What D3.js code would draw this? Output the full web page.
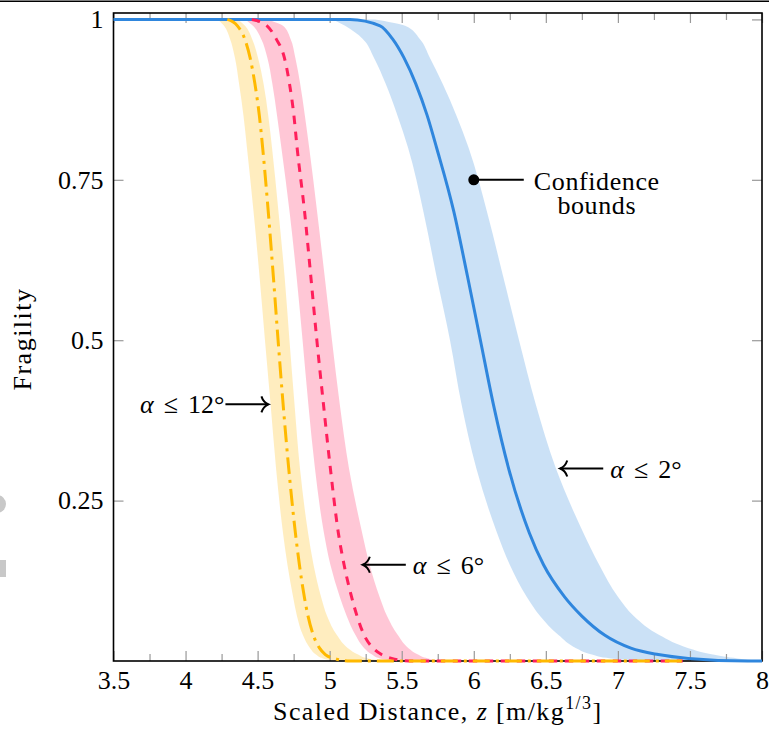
<!DOCTYPE html>
<html>
<head>
<meta charset="utf-8">
<script src="https://cdn.jsdelivr.net/npm/d3@7"></script>
<style>
  body { margin: 0; background: #fff; overflow: hidden; }
  svg text { font-family: "Liberation Serif", "DejaVu Serif", serif; font-size: 26px; fill: #000; }
</style>
</head>
<body>
<svg id="chart" width="769" height="739"></svg>
<script>
const fragLevels = [1, 0.99, 0.97, 0.94, 0.9, 0.85, 0.8, 0.7, 0.6, 0.5, 0.4, 0.3, 0.2, 0.15, 0.1, 0.07, 0.04, 0.02, 0.01, 0.004, 0];

// alpha <= 12 deg
const z12Mean = [4.290, 4.360, 4.410, 4.448, 4.481, 4.512, 4.535, 4.574, 4.609, 4.642, 4.677, 4.716, 4.762, 4.790, 4.824, 4.850, 4.887, 4.930, 4.970, 5.030, 5.140];
const z12Low  = [4.225, 4.267, 4.308, 4.343, 4.371, 4.402, 4.426, 4.472, 4.513, 4.551, 4.590, 4.628, 4.676, 4.707, 4.746, 4.773, 4.815, 4.864, 4.905, 4.954, 5.037];
const z12High = [4.364, 4.413, 4.461, 4.503, 4.541, 4.574, 4.600, 4.645, 4.687, 4.721, 4.756, 4.794, 4.850, 4.888, 4.940, 4.982, 5.051, 5.127, 5.197, 5.266, 5.384];

// alpha <= 6 deg
const z6Mean = [4.460, 4.565, 4.628, 4.686, 4.721, 4.752, 4.774, 4.826, 4.869, 4.911, 4.957, 5.005, 5.060, 5.100, 5.152, 5.190, 5.240, 5.302, 5.360, 5.430, 5.550];
const z6Low  = [4.413, 4.468, 4.524, 4.568, 4.602, 4.635, 4.665, 4.722, 4.770, 4.812, 4.852, 4.898, 4.960, 5.005, 5.070, 5.118, 5.180, 5.240, 5.294, 5.349, 5.454];
const z6High = [4.565, 4.676, 4.728, 4.762, 4.795, 4.828, 4.858, 4.913, 4.965, 5.016, 5.070, 5.134, 5.225, 5.277, 5.346, 5.398, 5.474, 5.547, 5.613, 5.683, 5.801];

// alpha <= 2 deg
const z2Mean = [5.141, 5.350, 5.435, 5.516, 5.597, 5.677, 5.742, 5.862, 5.956, 6.046, 6.136, 6.242, 6.385, 6.484, 6.630, 6.750, 6.910, 7.090, 7.280, 7.490, 7.900];
const z2Low  = [5.023, 5.107, 5.228, 5.308, 5.388, 5.471, 5.544, 5.651, 5.741, 5.835, 5.915, 6.018, 6.161, 6.250, 6.367, 6.460, 6.590, 6.710, 6.820, 6.950, 7.220];
const z2High = [5.315, 5.523, 5.624, 5.696, 5.783, 5.880, 5.964, 6.092, 6.203, 6.314, 6.430, 6.570, 6.760, 6.870, 7.000, 7.110, 7.290, 7.490, 7.660, 7.830, 8.000];

// where the mean lines start / stop along the flat parts
const lineStart = [null, null, 3.5];
const lineEnd = [7.45, 7.45, 8];

const xTicks = [3.5, 4, 4.5, 5, 5.5, 6, 6.5, 7, 7.5, 8];
const xMinor = [3.75, 4.25, 4.75, 5.25, 5.75, 6.25, 6.75, 7.25, 7.75];
const yTicks = [0.25, 0.5, 0.75, 1];

// annotations
const labelDeg = ["12", "6", "2"];
const labelZ = [4.575, 5.23, 6.6];
const labelF = [0.4, 0.15, 0.3];
const boundsDot = [6.0, 0.75];

let series = [
  {mean: z12Mean, low: z12Low, high: z12High, color: "#ffb900", dash: "17 6 3 6"},
  {mean: z6Mean, low: z6Low, high: z6High, color: "#ff1f5b", dash: "8.5 7.5"},
  {mean: z2Mean, low: z2Low, high: z2High, color: "#2f86dd", dash: null}
];

let svg = d3.select("#chart");
let margin = {top: 13, right: 7, bottom: 78, left: 113.5};
let width = +svg.attr("width") - margin.left - margin.right;
let height = +svg.attr("height") - margin.top - margin.bottom;

// bits of the cropped page round the figure
svg.append("line").attr("x1", 0).attr("x2", 769).attr("y1", 1.2).attr("y2", 1.2)
  .attr("stroke", "#000").attr("stroke-width", 1.6);
svg.append("circle").attr("cx", -3).attr("cy", 504).attr("r", 9).attr("fill", "#c8c8c8");
svg.append("rect").attr("x", 0).attr("y", 560).attr("width", 6).attr("height", 17).attr("fill", "#c8c8c8");

let g = svg.append("g").attr("transform", `translate(${margin.left}, ${margin.top})`);

let x = d3.scaleLinear().domain([3.5, 8]).range([0, width]);
let y = d3.scaleLinear().domain([0, 1.01]).range([height, 0]);

// confidence bands
series.forEach(s => {
  let band = fragLevels.map((f, i) => ({f: f, lo: s.low[i], hi: s.high[i]}));
  let area = d3.area()
    .curve(d3.curveMonotoneY)
    .y(d => y(d.f))
    .x0(d => x(d.lo))
    .x1(d => x(d.hi));
  g.append("path")
    .datum(band)
    .attr("fill", s.color)
    .attr("fill-opacity", 0.25)
    .attr("d", area);
});

function styleAxis(sel) {
  sel.select(".domain").remove();
  sel.attr("font-family", null).attr("font-size", null);
  sel.selectAll(".tick line").attr("stroke", "#999").attr("stroke-width", 1.2);
  sel.selectAll(".tick text").attr("fill", "#000");
}

g.append("g").attr("transform", `translate(0, ${height})`)
  .call(d3.axisBottom(x).tickValues(xTicks).tickSize(-10).tickPadding(10).tickFormat(d3.format("~g")))
  .call(styleAxis);
g.append("g").attr("transform", `translate(0, ${height})`)
  .call(d3.axisBottom(x).tickValues(xMinor).tickSize(-7).tickFormat(""))
  .call(styleAxis);
g.append("g")
  .call(d3.axisTop(x).tickValues(xTicks).tickSize(-10).tickFormat(""))
  .call(styleAxis);
g.append("g")
  .call(d3.axisTop(x).tickValues(xMinor).tickSize(-7).tickFormat(""))
  .call(styleAxis);
g.append("g")
  .call(d3.axisLeft(y).tickValues(yTicks).tickSize(-10).tickPadding(10).tickFormat(d3.format("~g")))
  .call(styleAxis);
g.append("g").attr("transform", `translate(${width}, 0)`)
  .call(d3.axisRight(y).tickValues(yTicks).tickSize(-10).tickFormat(""))
  .call(styleAxis);

g.append("rect")
  .attr("width", width)
  .attr("height", height)
  .attr("fill", "none")
  .attr("stroke", "#000")
  .attr("stroke-width", 1.6);

// mean curves, blue first so the others sit on top of it
let meanLine = d3.line()
  .curve(d3.curveMonotoneX)
  .x(d => x(d[0]))
  .y(d => y(d[1]));

[2, 1, 0].forEach(k => {
  let s = series[k];
  let pts = fragLevels.map((f, i) => [s.mean[i], f]);
  if (lineStart[k] !== null) pts.unshift([lineStart[k], 1]);
  pts.push([lineEnd[k], 0]);
  g.append("path")
    .datum(pts)
    .attr("fill", "none")
    .attr("stroke", s.color)
    .attr("stroke-width", 3)
    .attr("stroke-dasharray", s.dash)
    .attr("d", meanLine);
});

// annotations
function arrowHead(tx, ty, dir) {
  return `M${tx - dir * 7},${ty - 8} Q${tx - dir * 5},${ty - 2} ${tx},${ty} Q${tx - dir * 5},${ty + 2} ${tx - dir * 7},${ty + 8}`;
}

labelDeg.forEach((deg, i) => {
  let tx = x(labelZ[i]);
  let ty = y(labelF[i]);
  let dir = i === 0 ? 1 : -1;   // first one points right
  let tail = tx - dir * 43;
  g.append("line")
    .attr("x1", tail).attr("x2", tx)
    .attr("y1", ty).attr("y2", ty)
    .attr("stroke", "#000").attr("stroke-width", 2);
  g.append("path")
    .attr("d", arrowHead(tx, ty, dir))
    .attr("fill", "none").attr("stroke", "#000").attr("stroke-width", 2);
  let t = g.append("text")
    .attr("x", dir === 1 ? tail - 1 : tail + 7)
    .attr("y", ty + 9)
    .attr("text-anchor", dir === 1 ? "end" : "start");
  t.append("tspan").attr("font-style", "italic").text("α");
  t.append("tspan").attr("dx", 10).text("\u2264");
  t.append("tspan").attr("dx", 10).text(deg + "°");
});

let dx = x(boundsDot[0]);
let dy = y(boundsDot[1]);
g.append("line")
  .attr("x1", dx).attr("x2", dx + 50)
  .attr("y1", dy).attr("y2", dy)
  .attr("stroke", "#000").attr("stroke-width", 2);
g.append("circle")
  .attr("cx", dx).attr("cy", dy).attr("r", 5.5)
  .attr("fill", "#000");
let conf = g.append("text")
  .attr("text-anchor", "middle")
  .attr("letter-spacing", "0.6px");
conf.append("tspan").attr("x", dx + 123).attr("y", dy + 10).text("Confidence");
conf.append("tspan").attr("x", dx + 123).attr("y", dy + 34).text("bounds");

// axis titles
let xt = svg.append("text")
  .attr("x", margin.left + width / 2)
  .attr("y", 720)
  .attr("letter-spacing", "1.4px")
  .attr("text-anchor", "middle");
xt.append("tspan").text("Scaled Distance, ");
xt.append("tspan").attr("font-style", "italic").text("z");
xt.append("tspan").attr("xml:space", "preserve").text(" [m/kg");
xt.append("tspan").attr("font-size", "18px").attr("dy", -11).text("1/3");
xt.append("tspan").attr("dy", 11).text("]");

svg.append("text")
  .attr("transform", `translate(31, ${margin.top + height / 2 + 2}) rotate(-90)`)
  .attr("text-anchor", "middle")
  .attr("letter-spacing", "1.5px")
  .text("Fragility");
</script>
</body>
</html>
